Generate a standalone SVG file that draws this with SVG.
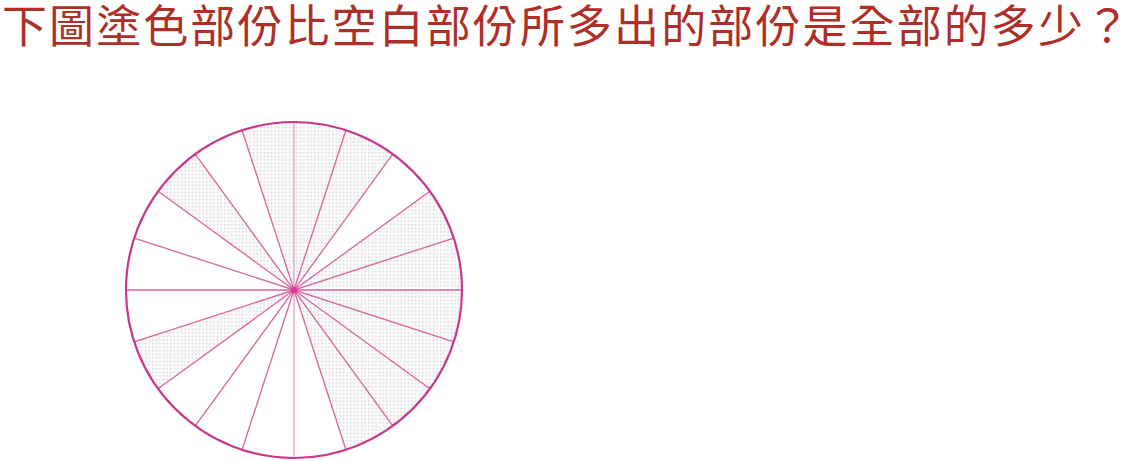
<svg xmlns="http://www.w3.org/2000/svg" width="1134" height="461" viewBox="0 0 1134 461">
  <defs>
    <pattern id="dots" width="3.6" height="3.6" patternUnits="userSpaceOnUse">
      <rect width="3.6" height="3.6" fill="#fafafa"/>
      <rect x="1" y="1" width="1.1" height="1.1" fill="#c2c2c2"/>
    </pattern>
  </defs>
  <style>
    .title { font-family: "Noto Sans CJK TC", "Noto Sans CJK SC", sans-serif; font-size: 45px; fill: #ad2f27; }
    .shade { fill: url(#dots); stroke: none; }
    .ray { stroke: #d6649f; stroke-width: 1.3; fill: none; }
    .ray-v { stroke: #d6aac0; stroke-width: 1.3; fill: none; }
    .rim { fill: none; stroke: #c9378a; stroke-width: 2.2; }
  </style>
  <rect width="1134" height="461" fill="#ffffff"/>
  <g id="title">
    <text class="title" x="2" y="43" textLength="1128" lengthAdjust="spacing">下圖塗色部份比空白部份所多出的部份是全部的多少？</text>
  </g>
  <g id="shaded-sectors">
    <path class="shade" d="M294,290 L462,290 A168,168 0 0 0 429.91,191.25 Z"/>
    <path class="shade" d="M294,290 L392.75,154.08 A168,168 0 0 0 242.08,130.22 Z"/>
    <path class="shade" d="M294,290 L195.25,154.08 A168,168 0 0 0 158.09,191.25 Z"/>
    <path class="shade" d="M294,290 L134.22,341.92 A168,168 0 0 0 158.09,388.75 Z"/>
    <path class="shade" d="M294,290 L345.92,449.78 A168,168 0 0 0 462,290 Z"/>
  </g>
  <g id="rays">
    <line class="ray" x1="126" y1="290" x2="462" y2="290"/>
    <line class="ray-v" x1="294" y1="122" x2="294" y2="458"/>
    <line class="ray" x1="453.78" y1="238.08" x2="134.22" y2="341.92"/>
    <line class="ray" x1="429.91" y1="191.25" x2="158.09" y2="388.75"/>
    <line class="ray" x1="392.75" y1="154.08" x2="195.25" y2="425.92"/>
    <line class="ray" x1="345.92" y1="130.22" x2="242.08" y2="449.78"/>
    <line class="ray" x1="242.08" y1="130.22" x2="345.92" y2="449.78"/>
    <line class="ray" x1="195.25" y1="154.08" x2="392.75" y2="425.92"/>
    <line class="ray" x1="158.09" y1="191.25" x2="429.91" y2="388.75"/>
    <line class="ray" x1="134.22" y1="238.08" x2="453.78" y2="341.92"/>
  </g>
  <g id="circle">
    <circle class="rim" cx="294" cy="290" r="168"/>
    <circle cx="294" cy="290" r="3.2" fill="#e0339c"/>
  </g>
</svg>
